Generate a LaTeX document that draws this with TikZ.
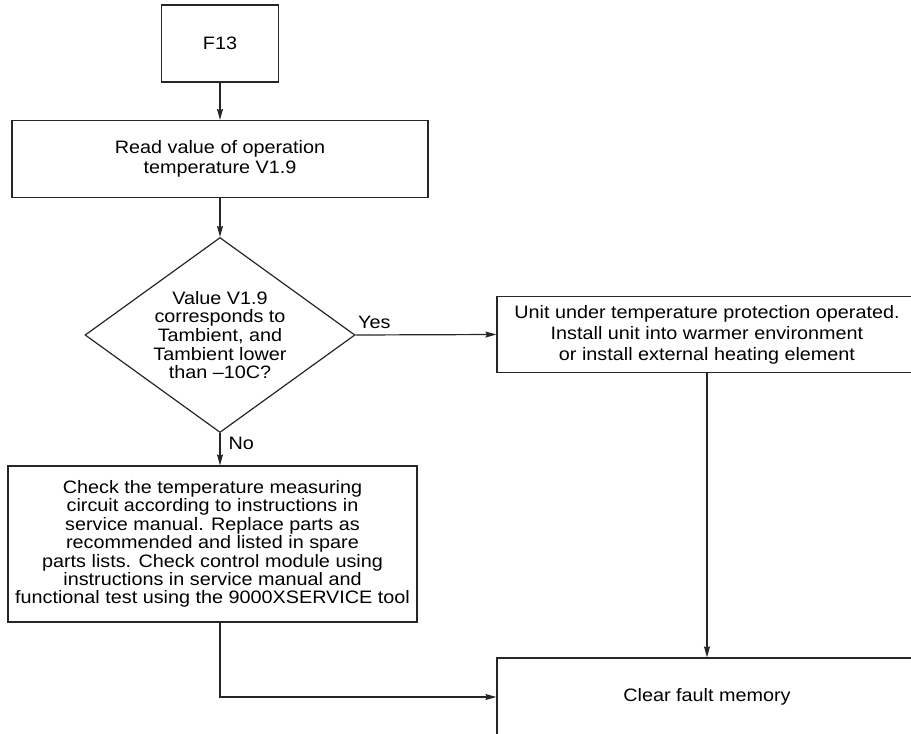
\documentclass[tikz,border=0pt]{standalone}
\usepackage{fontspec}
\setmainfont{Liberation Sans}[FakeStretch=1.1]
\usetikzlibrary{shapes.geometric,arrows.meta}

\begin{document}
\begin{tikzpicture}[
      x=1pt, y=-1pt,
      every node/.style={font=\fontsize{18}{20}\selectfont},
      box/.style={rectangle, draw=black!85, line width=1.2pt, align=center, inner sep=0pt},
      start/.style={box, minimum width=117pt, minimum height=77pt},
      wide/.style={box, minimum width=416pt, minimum height=77pt},
      tall/.style={box, minimum width=409pt, minimum height=156pt, font=\fontsize{18}{18.4}\selectfont},
      query/.style={diamond, draw=black!85, line width=1.2pt, align=center, inner sep=0pt, aspect=1.385, minimum width=270pt, minimum height=195pt, font=\fontsize{18}{18.6}\selectfont},
      flow/.style={line width=1.2pt, draw=black!85, -{Stealth[length=11pt, width=6pt, inset=1.5pt]}},
      tag/.style={inner sep=0pt}
  ]
    \clip (0,0) rectangle (911,734);
    \node[start] (f13) at (220,43.5) {F13};
    \node[wide] (read) at (220,159) {Read value of operation\\temperature V1.9};
    \node[query] (dec) at (220,335) {Value V1.9\\corresponds to\\Tambient, and\\Tambient lower\\than –10C?};
    \node[wide, minimum width=420pt, minimum height=76pt, font=\fontsize{18}{21}\selectfont] (heat) at (707,334.5) {Unit under temperature protection operated.\\Install unit into warmer environment\\or install external heating element};
    \node[tall] (check) at (212.5,544) {Check the temperature measuring\\circuit according to instructions in\\service manual. Replace parts as\\recommended and listed in spare\\parts lists. Check control module using\\instructions in service manual and\\functional test using the 9000XSERVICE tool};
    \node[wide, minimum width=420pt, minimum height=78pt] (clear) at (707,697) {Clear fault memory};

    \draw[flow] (f13) -- (read);
    \draw[flow] (read) -- (dec);
    \draw[flow] (dec.east) -- node[tag, at start, anchor=south west, xshift=2pt, yshift=6pt] {Yes} (heat.west);
    \draw[flow] (dec.south) -- node[tag, at start, anchor=north west, xshift=8pt, yshift=-3pt] {No} (check.north -| dec.south);
    \draw[flow] (heat.south) -- (clear.north);
    \draw[flow] (dec.south |- check.south) |- (clear.west);
  \end{tikzpicture}
\end{document}
